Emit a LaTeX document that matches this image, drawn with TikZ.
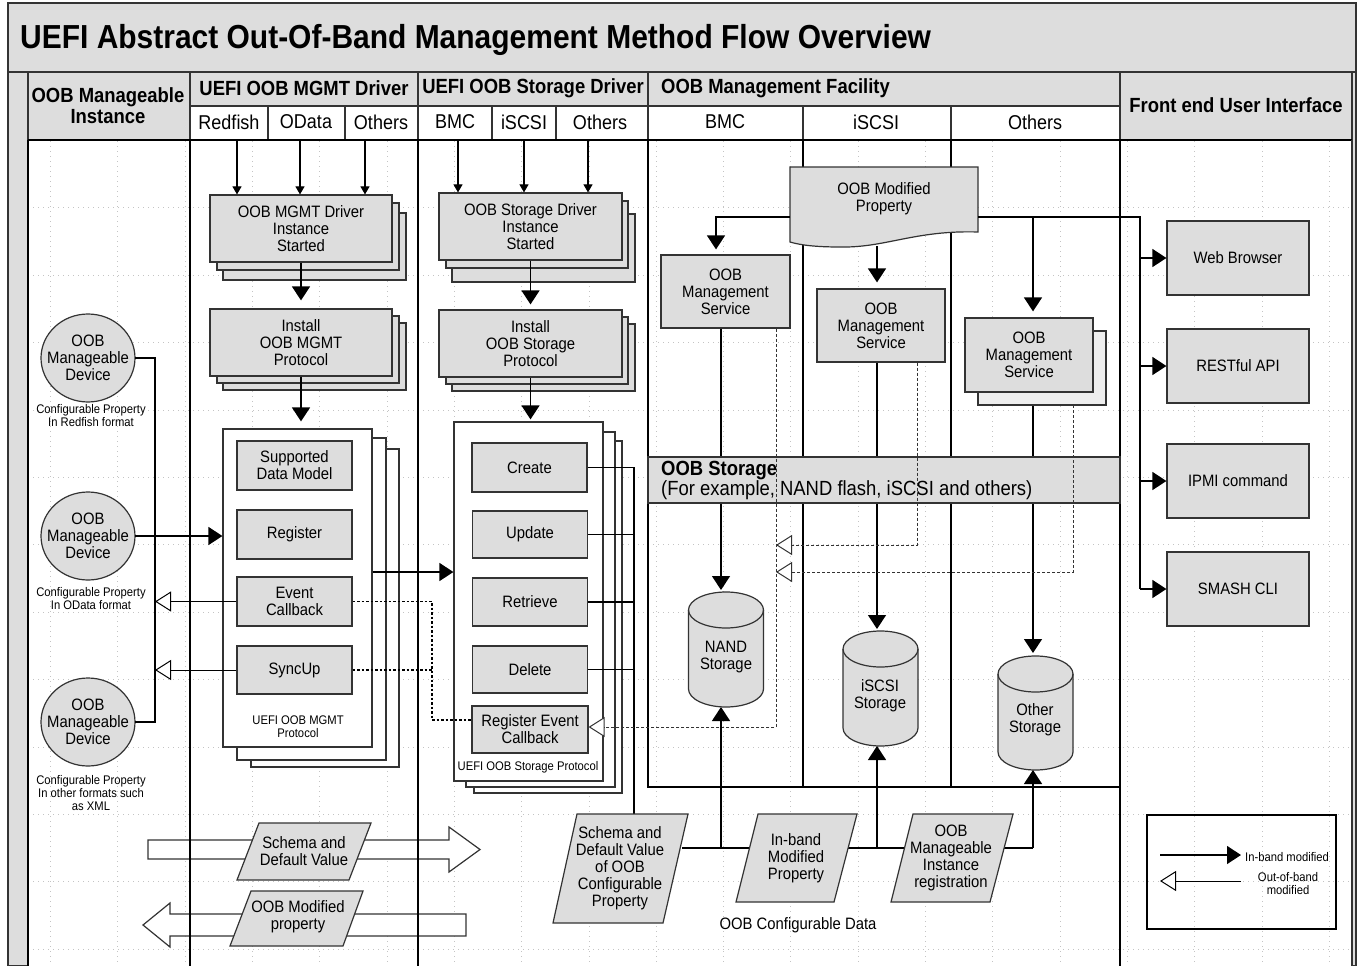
\documentclass[tikz,border=0pt]{standalone}
\usepackage{fontspec}
\setmainfont{Liberation Sans}[FakeStretch=0.9]
\usetikzlibrary{arrows.meta,shapes.geometric,calc}
\definecolor{gfill}{HTML}{DDDDDD}
\definecolor{gline}{HTML}{333333}
\definecolor{gridc}{HTML}{C4C4C4}
\definecolor{shadowc}{HTML}{EEEEEE}
\newcommand{\ftitle}{\fontsize{33.3}{38}\selectfont\bfseries}
\newcommand{\fhead}{\fontsize{20.5}{21}\selectfont\bfseries}
\newcommand{\fsub}{\fontsize{20}{22}\selectfont}
\newcommand{\fnode}{\fontsize{16.5}{17}\selectfont}
\newcommand{\fsmall}{\fontsize{12.5}{13}\selectfont}
\newcommand{\fband}{\fontsize{20.5}{20}\selectfont}
\newcommand{\backbox}[5]{\filldraw[fill=#5, draw=gline, line width=1.2pt] (#1,#2) rectangle (#3,#4);}
\newcommand{\cyl}[4]{%
  \filldraw[fill=gfill, draw=gline, line width=1.2pt]
    ({#1-#2},{#3+18}) -- ({#1-#2},{#4-18})
    arc[start angle=180,end angle=360,x radius=#2pt,y radius=18pt]
    -- ({#1+#2},{#3+18})
    arc[start angle=0,end angle=180,x radius=#2pt,y radius=18pt] -- cycle;
  \draw[gline, line width=1.2pt] ({#1-#2},{#3+18}) arc[start angle=180,end angle=360,x radius=#2pt,y radius=18pt];}
\begin{document}
\begin{tikzpicture}[x=1pt,y=-1pt,
  box/.style={draw=gline, fill=gfill, line width=1.2pt, align=center, font=\fnode, inner sep=0pt},
  wbox/.style={draw=gline, fill=white, line width=1.2pt, inner sep=0pt},
  hl/.style={draw=gline, line width=1.3pt},
  ln/.style={draw=black, line width=1.3pt},
  thk/.style={draw=black, line width=2.8pt},
  ib/.style={draw=black, line width=1.3pt, -{Triangle[length=14pt,width=18pt]}},
  ibs/.style={draw=black, line width=1.1pt, -{Triangle[length=8pt,width=9pt]}},
  oob/.style={draw=black, line width=1pt, -{Triangle[length=16pt,width=20pt,fill=white]}},
  dsh/.style={draw=gline, line width=1pt, dash pattern=on 3pt off 2pt},
  dotl/.style={draw=black, line width=1.3pt, dash pattern=on 2.5pt off 2pt},
  lbl/.style={align=center, inner sep=0pt},
  devtxt/.style={minimum width=94, minimum height=88, inner sep=0pt, align=center, font=\fnode},
  gridl/.style={draw=gridc, line width=0.7pt, dash pattern=on 1pt off 4pt},
]
\useasboundingbox (0,0) rectangle (1360,966);
\fill[white] (0,0) rectangle (1360,966);
\filldraw[fill=gfill, hl] (8,3) rectangle (1356,966);
\fill[white] (28,140) rectangle (1352,966);
\foreach \i in {0,...,19} \draw[gridl] ({50.5+67.3*\i},141) -- ({50.5+67.3*\i},966);
\foreach \j in {1,...,12} \draw[gridl] (28,{140.4+67.4*\j}) -- (1352,{140.4+67.4*\j});

% ---------- title and header ----------
\draw[hl] (8,72) -- (1356,72);
\node[font=\ftitle, anchor=west, inner sep=0pt] (title) at (20,40) {UEFI Abstract Out-Of-Band Management Method Flow Overview};
\filldraw[fill=gfill, hl] (28,72) rectangle (190,140);
\filldraw[fill=gfill, hl] (190,72) rectangle (418,106);
\filldraw[fill=gfill, hl] (418,72) rectangle (648,106);
\filldraw[fill=gfill, hl] (648,72) rectangle (1120,106);
\filldraw[fill=gfill, hl] (1120,72) rectangle (1352,140);
\filldraw[fill=white, hl] (190,106) rectangle (1120,140);
\draw[hl] (268,106) -- (268,140) (345,106) -- (345,140) (418,106) -- (418,140)
          (492,106) -- (492,140) (556,106) -- (556,140) (648,106) -- (648,140)
          (803,106) -- (803,140) (951,106) -- (951,140);
\node[font=\fhead, lbl] (hInst) at (108,105.5) {OOB Manageable\\Instance};
\node[font=\fhead, lbl] (hMgmt) at (304,88.5) {UEFI OOB MGMT Driver};
\node[font=\fhead, lbl] (hStor) at (533,88.5) {UEFI OOB Storage Driver};
\node[font=\fhead, anchor=west, inner sep=0pt] (hFac) at (661,88.5) {OOB Management Facility};
\node[font=\fhead, lbl] (hFe) at (1236,105.5) {Front end User Interface};
\node[font=\fsub, lbl] (sRed) at (229,122) {Redfish};
\node[font=\fsub, lbl] (sOD) at (306,122) {OData};
\node[font=\fsub, lbl] (sOt1) at (381,122) {Others};
\node[font=\fsub, lbl] (sBMC1) at (455,122) {BMC};
\node[font=\fsub, lbl] (sIS1) at (524,122) {iSCSI};
\node[font=\fsub, lbl] (sOt2) at (600,122) {Others};
\node[font=\fsub, lbl] (sBMC2) at (725,122) {BMC};
\node[font=\fsub, lbl] (sIS2) at (876,122) {iSCSI};
\node[font=\fsub, lbl] (sOt3) at (1035,122) {Others};

% ---------- bottom-left big arrows ----------
\filldraw[fill=white, draw=gline, line width=1.2pt] (148,840) -- (449,840) -- (449,827) -- (480,849.5) -- (449,872) -- (449,859) -- (148,859) -- cycle;
\filldraw[fill=white, draw=gline, line width=1.2pt] (466,914) -- (170,914) -- (170,903) -- (143,925) -- (170,947) -- (170,936) -- (466,936) -- cycle;

% ---------- structure lines ----------
\draw[thk] (28,140) -- (1352,140);
\draw[thk] (28,140) -- (28,966) (190,140) -- (190,966) (418,140) -- (418,966) (1120,140) -- (1120,966);
\draw[thk] (648,140) -- (648,787) -- (1120,787);
\draw[ln] (803,140) -- (803,787) (951,140) -- (951,787);
\draw[hl] (1352,140) -- (1352,966);

% ---------- bottom-left parallelograms ----------
\filldraw[fill=gfill, draw=gline, line width=1.2pt] (237,880) -- (349,880) -- (371,823) -- (259,823) -- cycle;
\node[font=\fnode, lbl] (pSchema) at (304,851.5) {Schema and\\Default Value};
\filldraw[fill=gfill, draw=gline, line width=1.2pt] (230,946) -- (343,946) -- (363,891) -- (251,891) -- cycle;
\node[font=\fnode, lbl] (pMod) at (298,917) {OOB Modified\\property};

% ---------- left column: devices ----------
\filldraw[fill=gfill, draw=gline, line width=1.2pt] (88,358) ellipse[x radius=47pt, y radius=44pt];
\node[devtxt] (dev1) at (88,358) {OOB\\Manageable\\Device};
\filldraw[fill=gfill, draw=gline, line width=1.2pt] (88,536) ellipse[x radius=47pt, y radius=44pt];
\node[devtxt] (dev2) at (88,536) {OOB\\Manageable\\Device};
\filldraw[fill=gfill, draw=gline, line width=1.2pt] (88,722) ellipse[x radius=47pt, y radius=44pt];
\node[devtxt] (dev3) at (88,722) {OOB\\Manageable\\Device};
\node[font=\fsmall, lbl] (cap1) at (91,415.5) {Configurable Property\\In Redfish format};
\node[font=\fsmall, lbl] (cap2) at (91,598.5) {Configurable Property\\In OData format};
\node[font=\fsmall, lbl] (cap3) at (91,793.5) {Configurable Property\\In other formats such\\as XML};

% ---------- MGMT driver column ----------
\backbox{223}{213}{406}{280}{gfill}
\backbox{217}{203}{399}{270}{gfill}
\node[box, minimum width=182, minimum height=67] (mgmtstart) at (301,228.5) {OOB MGMT Driver\\Instance\\Started};
\backbox{223}{323}{406}{390}{gfill}
\backbox{217}{316}{399}{383}{gfill}
\node[box, minimum width=182, minimum height=67] (mgmtinst) at (301,342.5) {Install\\OOB MGMT\\Protocol};
\backbox{251}{449}{399}{767}{white}
\backbox{237}{438}{386}{760}{white}
\node[wbox, minimum width=149, minimum height=318] (mgmtproto) at (297.5,588) {};
\node[box, minimum width=115, minimum height=49] (sdm) at (294.5,465.5) {Supported\\Data Model};
\node[box, minimum width=115, minimum height=49] (reg) at (294.5,534.5) {Register};
\node[box, minimum width=115, minimum height=49] (evcb) at (294.5,601.5) {Event\\Callback};
\node[box, minimum width=115, minimum height=48] (sync) at (294.5,670) {SyncUp};
\node[font=\fsmall, lbl] (mgmtlbl) at (298,727) {UEFI OOB MGMT\\Protocol};

% ---------- Storage driver column ----------
\backbox{452}{214}{635}{282}{gfill}
\backbox{446}{201}{628}{268}{gfill}
\node[box, minimum width=183, minimum height=67] (ststart) at (530.5,226.5) {OOB Storage Driver\\Instance\\Started};
\backbox{452}{324}{635}{391}{gfill}
\backbox{446}{317}{628}{384}{gfill}
\node[box, minimum width=183, minimum height=67] (stinst) at (530.5,343.5) {Install\\OOB Storage\\Protocol};
\backbox{474}{441}{622}{793}{white}
\backbox{466}{432}{615}{787}{white}
\node[wbox, minimum width=149, minimum height=359] (stproto) at (528.5,601.5) {};
\node[box, minimum width=115, minimum height=49] (create) at (529.5,467.5) {Create};
\node[box, minimum width=115, minimum height=47] (update) at (530,534.5) {Update};
\node[box, minimum width=115, minimum height=48] (retrieve) at (530,602) {Retrieve};
\node[box, minimum width=115, minimum height=47] (delete) at (530,669.5) {Delete};
\node[box, minimum width=116, minimum height=47] (regev) at (530,729.5) {Register Event\\Callback};
\node[font=\fsmall, lbl] (stlbl) at (528,767) {UEFI OOB Storage Protocol};

% top arrows into driver columns
\draw[ibs] (237,140) -- (mgmtstart.north -| 237,0);
\draw[ibs] (300,140) -- (mgmtstart.north -| 300,0);
\draw[ibs] (365,140) -- (mgmtstart.north -| 365,0);
\draw[ibs] (458,140) -- (ststart.north -| 458,0);
\draw[ibs] (524,140) -- (ststart.north -| 524,0);
\draw[ibs] (588,140) -- (ststart.north -| 588,0);
\draw[ib, shorten >=8pt] (mgmtstart.south) -- (mgmtinst.north);
\draw[ib, shorten >=7pt] (mgmtinst.south) -- (mgmtproto.north -| mgmtinst.south);
\draw[ib, shorten >=5pt] (ststart.south) -- (stinst.north);
\draw[ib, shorten >=2pt] (stinst.south) -- (stproto.north -| stinst.south);

% left column connectors
\coordinate (busT) at (155,358);
\coordinate (busB) at (155,722);
\draw[ln] (dev1.east) -- (busT) -- (busB) -- (dev3.east);
\draw[ib] (dev2.east) -- (mgmtproto.west |- dev2.east);
\draw[oob] (evcb.west) -- (evcb.west -| busT);
\draw[oob] (sync.west) -- (sync.west -| busT);
\draw[ib] (mgmtproto.east |- 0,572) -- (stproto.west |- 0,572);
\draw[dotl] (evcb.east) -- (evcb.east -| 432,0) -- (432,720) -- (regev.west |- 0,720);
\draw[dotl] (sync.east) -- (sync.east -| 432,0);

% storage ops bus
\coordinate (sbus) at (634,814);
\draw[ln] (create.east) -- (create.east -| sbus) -- (sbus);
\draw[ln] (update.east) -- (update.east -| sbus);
\draw[ln] (retrieve.east) -- (retrieve.east -| sbus);
\draw[ln] (delete.east) -- (delete.east -| sbus);

% ---------- Facility ----------
\filldraw[fill=gfill, draw=gline, line width=1.2pt] (790,167) -- (978,167) -- (978,232) .. controls (915,230) and (885,248) .. (840,247) .. controls (815,247) and (800,245) .. (790,242) -- cycle;
\node[font=\fnode, lbl] (docp) at (884,198.5) {OOB Modified\\Property};
\coordinate (docL) at (790,217);
\coordinate (docR) at (978,217);
\coordinate (docB) at (877,246);
\node[box, minimum width=129, minimum height=73] (svc1) at (725.5,291.5) {OOB\\Management\\Service};
\node[box, minimum width=128, minimum height=73] (svc2) at (881,325.5) {OOB\\Management\\Service};
\coordinate (sh3) at (1073,405);
\coordinate (sh3c) at (1033,405);
\coordinate (nandT) at (721,592); \coordinate (nandB) at (721,707);
\coordinate (iscT) at (877,631); \coordinate (iscB) at (877,746);
\coordinate (othT) at (1033,656); \coordinate (othB) at (1033,770);
\draw[ib, shorten >=2pt] (svc1.south -| 721,0) -- (nandT);
\draw[ib, shorten >=2pt] (svc2.south -| 877,0) -- (iscT);
\draw[ib, shorten >=3pt] (sh3c) -- (othT);
\backbox{978}{331}{1106}{405}{shadowc}
\node[box, minimum width=128, minimum height=74] (svc3) at (1029,355) {OOB\\Management\\Service};
\draw[ib, shorten >=5pt] (docL) -| (svc1.north -| 716,0);
\draw[ib, shorten >=6pt] (docB) -- (svc2.north -| docB);
\draw[ib, shorten >=6pt] (docR) -| (svc3.north -| 1033,0);

% OOB storage band
\filldraw[fill=gfill, draw=gline, line width=1.3pt] (648,457) rectangle (1120,503);
\node[font=\fband, align=left, anchor=west, inner sep=0pt] (band) at (661,480) {\textbf{OOB Storage}\\(For example, NAND flash, iSCSI and others)};

% cylinders
\cyl{726}{37.5}{592}{707}
\node[font=\fnode, lbl] (nand) at (726,657) {NAND\\Storage};
\cyl{880.5}{37.5}{631}{746}
\node[font=\fnode, lbl] (iscsi) at (880,696) {iSCSI\\Storage};
\cyl{1035.5}{37.5}{656}{770}
\node[font=\fnode, lbl] (other) at (1035,720) {Other\\Storage};

% dashed out-of-band returns
\draw[dsh, -{Triangle[length=16pt,width=20pt,fill=white]}] (svc1.south -| 776,0) -- (776,727) -- (regev.east |- 0,727);
\draw[dsh, -{Triangle[length=16pt,width=20pt,fill=white]}] (svc2.south -| 917,0) -- (917,545) -- (776,545);
\draw[dsh, -{Triangle[length=16pt,width=20pt,fill=white]}] (sh3) -- (1073,572) -- (776,572);

% bottom configurable data
\coordinate (bh) at (682,848);
\draw[ln] (bh) -- (1033,848);
\draw[ib] (721,848) -- (nandB);
\draw[ib] (877,848) -- (iscB);
\draw[ib] (1033,848) -- (othB);
\filldraw[fill=gfill, draw=gline, line width=1.2pt] (553,923) -- (663,923) -- (688,814) -- (577,814) -- cycle;
\node[font=\fnode, lbl] (pDef) at (620,868) {Schema and\\Default Value\\of OOB\\Configurable\\Property};
\filldraw[fill=gfill, draw=gline, line width=1.2pt] (736,902) -- (834,902) -- (857,814) -- (758,814) -- cycle;
\node[font=\fnode, lbl] (pIn) at (796,858) {In-band\\Modified\\Property};
\filldraw[fill=gfill, draw=gline, line width=1.2pt] (891,902) -- (990,902) -- (1013,814) -- (913,814) -- cycle;
\node[font=\fnode, lbl] (pReg) at (951,858) {OOB\\Manageable\\Instance\\registration};
\node[font=\fnode, lbl] (cfgd) at (798,925) {OOB Configurable Data};

% ---------- Front end ----------
\node[box, minimum width=142, minimum height=74] (web) at (1238,258) {Web Browser};
\node[box, minimum width=142, minimum height=74] (rest) at (1238,366) {RESTful API};
\node[box, minimum width=142, minimum height=74] (ipmi) at (1238,481) {IPMI command};
\node[box, minimum width=142, minimum height=74] (smash) at (1238,589) {SMASH CLI};
\coordinate (feT) at (1140,217);
\coordinate (feB) at (1140,589);
\draw[ln] (docR) -- (feT) -- (feB);
\draw[ib] (feT |- web.west) -- (web.west);
\draw[ib] (feT |- rest.west) -- (rest.west);
\draw[ib] (feT |- ipmi.west) -- (ipmi.west);
\draw[ib] (feB) -- (smash.west);

% ---------- legend ----------
\node[draw=black, line width=2pt, minimum width=189, minimum height=114, inner sep=0pt] (legend) at (1241.5,872) {};
\coordinate (lgA) at (1160,855); \coordinate (lgB) at (1241,855);
\coordinate (lgC) at (1241,881); \coordinate (lgD) at (1160,881);
\draw[ib] (lgA) -- (lgB);
\draw[oob] (lgC) -- (lgD);
\node[font=\fsmall, anchor=west, inner sep=0pt] (lgt1) at (1245,857) {In-band modified};
\node[font=\fsmall, lbl] (lgt2) at (1288,884) {Out-of-band\\modified};
\end{tikzpicture}
\end{document}
